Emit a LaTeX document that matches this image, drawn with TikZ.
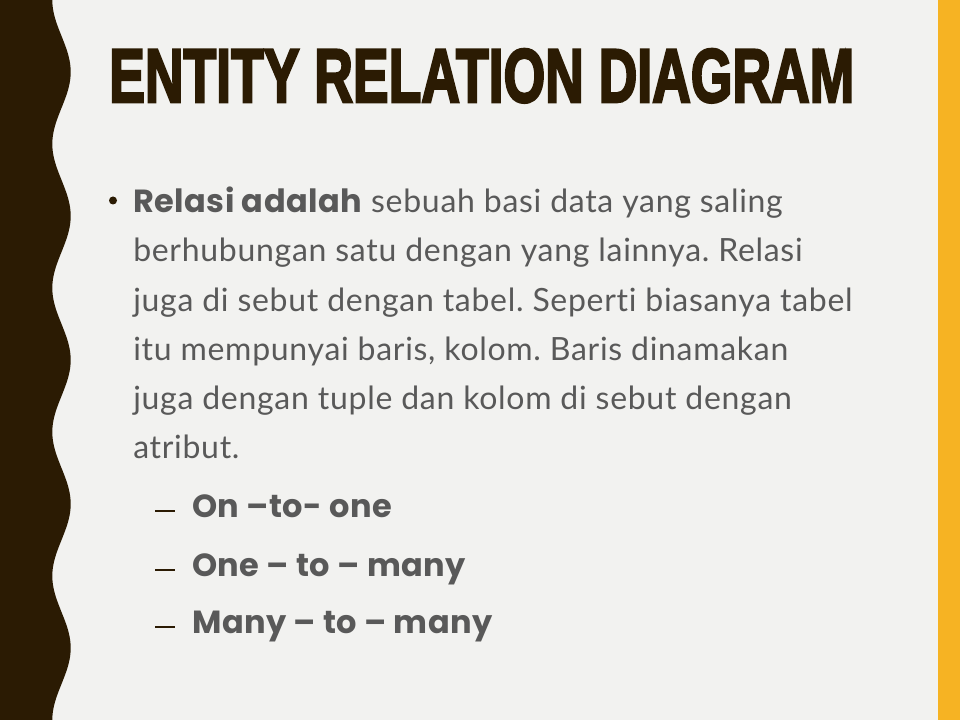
\documentclass[tikz,border=0pt]{standalone}
\usepackage{fontspec}
\setmainfont{Lato}[LetterSpace=2.2, Ligatures=NoCommon]
\newfontfamily\boldfont{Poppins}[LetterSpace=1.5]
\newfontfamily\titlefont[FakeBold=3.5]{Liberation Sans}
\usepackage{graphicx}
\frenchspacing
\definecolor{bgc}{HTML}{F2F2F0}
\definecolor{orangebar}{HTML}{F6B323}
\definecolor{brownband}{HTML}{2B1B03}
\definecolor{textgray}{HTML}{595959}
\tikzset{
  bodyline/.style={anchor=base west, inner sep=0, text=textgray, font=\fontsize{24}{28}\selectfont},
  subline/.style={anchor=base west, inner sep=0, text=textgray, font=\fontsize{24}{28}\selectfont\boldfont\bfseries},
  dashmark/.style={fill=brownband},
}
\begin{document}
\begin{tikzpicture}[x=0.75pt,y=-0.75pt]
\useasboundingbox (0,0) rectangle (960,720);
\fill[bgc] (0,0) rectangle (960,720);
\fill[orangebar] (938,0) rectangle (960,720);
\fill[brownband] (0,0) -- plot[domain=0:720, samples=241, variable=\t] ({61.5-9.2*cos(\t*2.5)}, {\t}) -- (0,720) -- cycle;
\node[anchor=south west, inner sep=0, text=brownband] (title) at (109,103)
  {\resizebox{558.75pt}{39.75pt}{\titlefont\bfseries ENTITY RELATION DIAGRAM}};
\node[circle, fill=brownband, inner sep=0, minimum size=6pt] (bul) at (113,200.5) {};
\node[bodyline] (l1) at (133,213) {{\fontsize{24}{28}\boldfont\bfseries Relasi adalah} sebuah basi data yang saling};
\node[bodyline] (l2) at (133,262) {berhubungan satu dengan yang lainnya. Relasi};
\node[bodyline] (l3) at (133,311) {juga di sebut dengan tabel. Seperti biasanya tabel};
\node[bodyline] (l4) at (133,360) {itu mempunyai baris, kolom. Baris dinamakan};
\node[bodyline] (l5) at (133,409) {juga dengan tuple dan kolom di sebut dengan};
\node[bodyline] (l6) at (133,458) {atribut.};
\fill[dashmark] (155,509.5) rectangle (175,511.5);
\fill[dashmark] (155,568.5) rectangle (175,570.5);
\fill[dashmark] (155,625.5) rectangle (175,627.5);
\node[subline] (s1) at (192,517) {On –to- one};
\node[subline] (s2) at (192,576) {One – to – many};
\node[subline] (s3) at (192,633) {Many – to – many};
\end{tikzpicture}
\end{document}
